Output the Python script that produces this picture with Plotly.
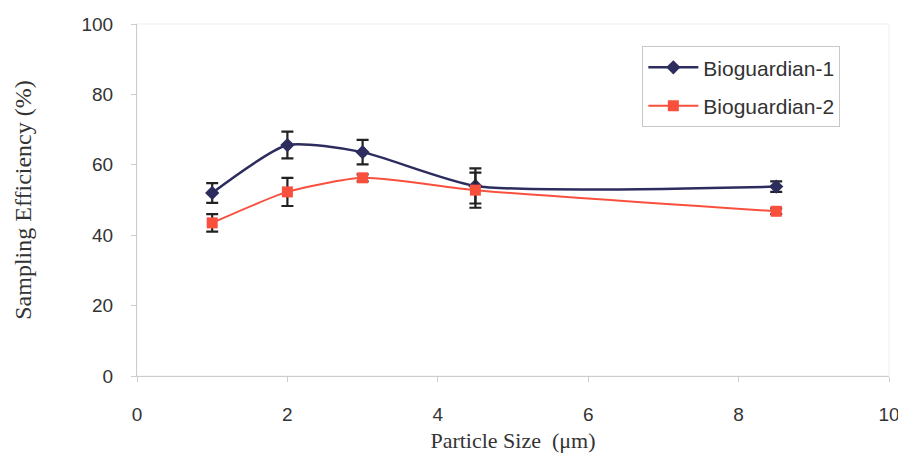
import plotly.graph_objects as go

# particle size (um)
sizes = [1, 2, 3, 4.5, 8.5]

# sampling efficiency (%) and error bars
bio1_eff = [52.0, 65.6, 63.6, 54.0, 53.8]
bio1_err = [2.8, 3.8, 3.5, 5.0, 1.5]
bio2_eff = [43.5, 52.3, 56.3, 52.8, 46.8]
bio2_err = [2.5, 4.0, 1.0, 5.0, 0.8]

x_ticks = [0, 2, 4, 6, 8, 10]
y_ticks = [0, 20, 40, 60, 80, 100]

fig = go.Figure()

fig.add_trace(go.Scatter(
    x=sizes,
    y=bio1_eff,
    mode='lines+markers',
    name='Bioguardian-1',
    legendgroup='b1',
    line=dict(color='#2c2d5e', width=2.5, shape='spline', smoothing=0.6),
    marker=dict(symbol='diamond', size=11, color='#2c2d5e'),
    error_y=dict(type='data', array=bio1_err, color='#222222', thickness=2.2, width=6),
))

fig.add_trace(go.Scatter(
    x=sizes,
    y=bio2_eff,
    mode='lines+markers',
    name='Bioguardian-2',
    legendgroup='b2',
    line=dict(color='#f9503e', width=2, shape='spline', smoothing=0.6),
    marker=dict(symbol='square', size=11, color='#f9503e'),
    error_y=dict(type='data', array=bio2_err, color='#222222', thickness=2.2, width=6),
))

axis_common = dict(
    showgrid=False,
    zeroline=False,
    showline=True,
    automargin=False,
    linecolor='#cdcdcd',
    linewidth=1,
    ticks='outside',
    ticklen=5,
    tickcolor='#cdcdcd',
    tickfont=dict(family='Liberation Sans, Arial', size=19, color='#333333'),
)

# page body adds an 8px margin, so the figure is sized to fit the window
fig.update_layout(
    width=898,
    height=467,
    margin=dict(l=129, r=17, t=16, b=99),
    plot_bgcolor='white',
    paper_bgcolor='white',
    xaxis=dict(
        range=[0, 10],
        tickvals=x_ticks,
        ticklabelstandoff=16,
        title=dict(text='Particle Size  (μm)', standoff=8,
                   font=dict(family='Liberation Serif, Times New Roman', size=22, color='#333333')),
        **axis_common,
    ),
    yaxis=dict(
        range=[0, 100],
        tickvals=y_ticks,
        ticklabelstandoff=14,
        title=dict(text='Sampling Efficiency (%)', standoff=43,
                   font=dict(family='Liberation Serif, Times New Roman', size=24, color='#333333')),
        **axis_common,
    ),
    legend=dict(
        x=0.672,
        y=0.937,
        xanchor='left',
        yanchor='top',
        bgcolor='white',
        bordercolor='#c8c8c8',
        borderwidth=1,
        font=dict(family='Liberation Sans, Arial', size=21, color='#333333'),
        tracegroupgap=8,
        itemwidth=50,
    ),
    showlegend=True,
    # faint plot-area frame on top and right
    shapes=[dict(type='rect', xref='paper', yref='paper', x0=0, y0=0, x1=1, y1=1,
                 line=dict(color='#efefef', width=1), layer='below')],
)

fig.write_html("out.html")
